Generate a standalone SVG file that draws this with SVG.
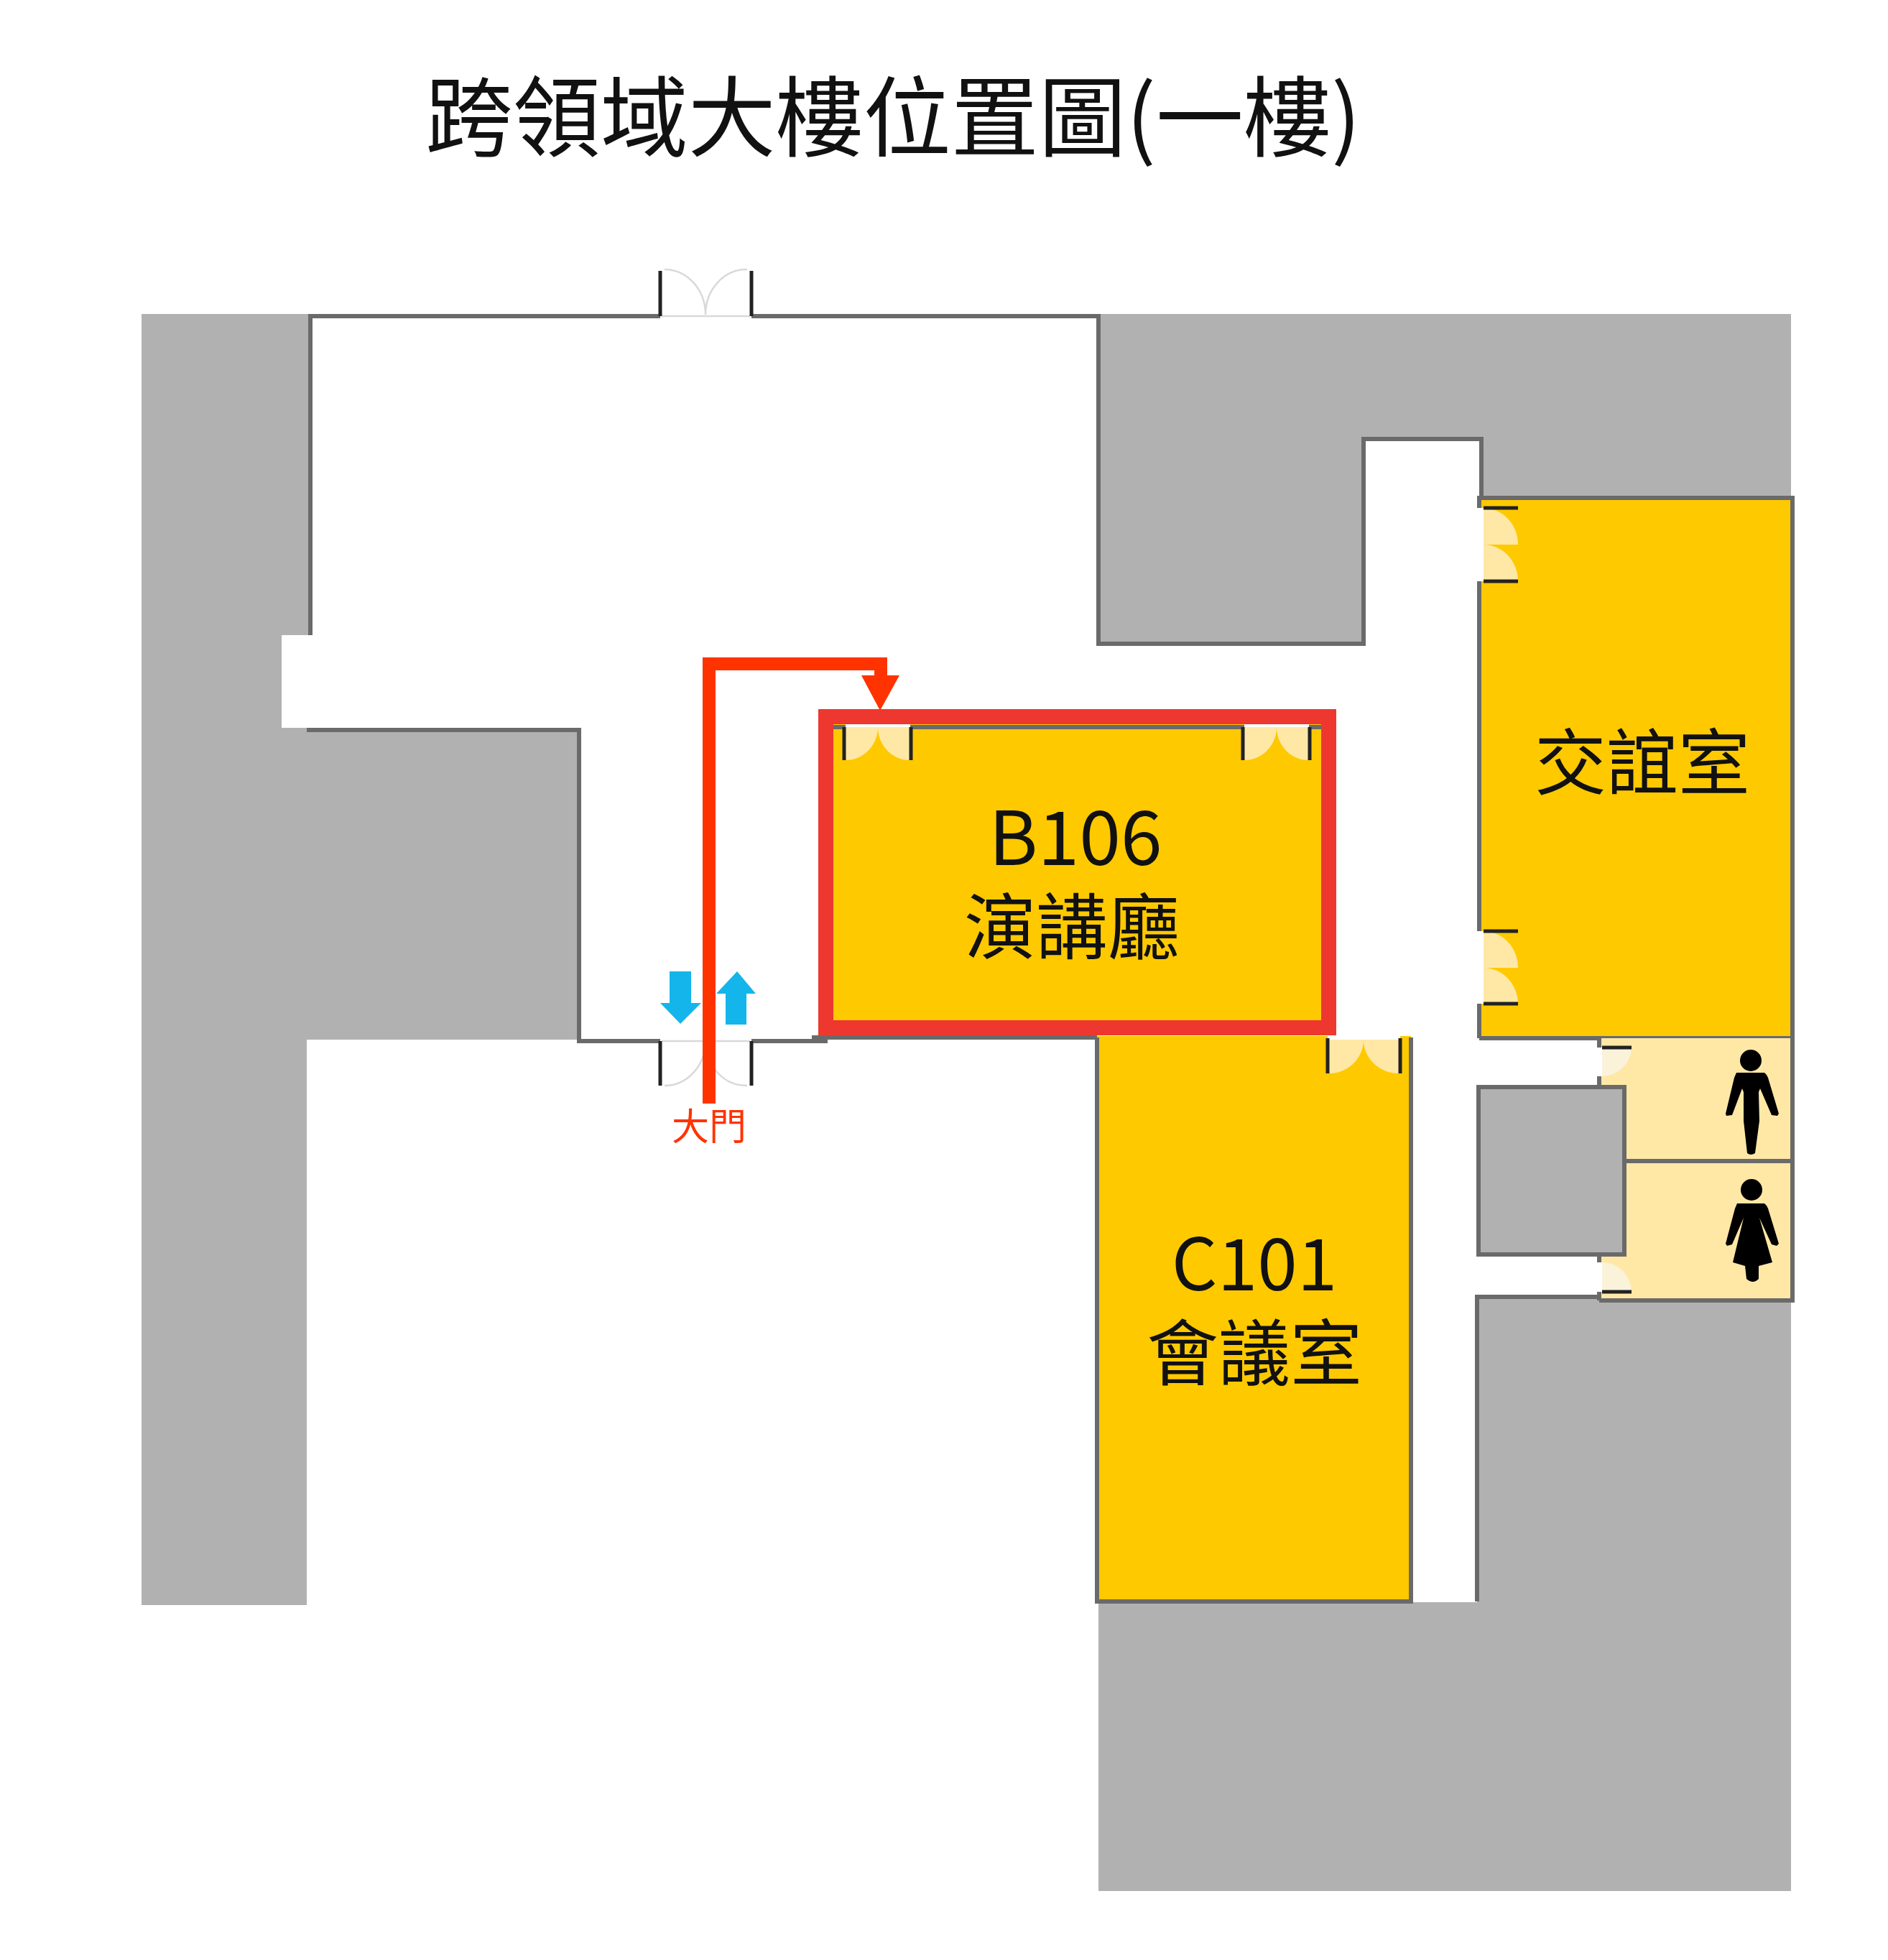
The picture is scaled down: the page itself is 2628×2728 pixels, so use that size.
<svg xmlns="http://www.w3.org/2000/svg" width="2628" height="2728" viewBox="0 0 2628 2728">
<style>
text{font-family:"Noto Sans CJK TC","Noto Sans",sans-serif;fill:#111;text-anchor:middle}
.g{fill:#b1b1b1}.y{fill:#ffc900}.ly{fill:#ffe8a6}
.w{fill:none;stroke:#6a6a6a;stroke-width:6;stroke-linejoin:miter}
.p{fill:none;stroke:#222;stroke-width:5}
.wh{fill:#fff}
.arc{fill:none;stroke:#d9d9d9;stroke-width:2.5}
.leaf{fill:#ffe8a6}
.leaf2{fill:#fbf2da}
.b{fill:#14b5ea}
.lab{font-size:100px}
</style>
<rect width="2628" height="2728" fill="#fff"/>
<g id="walls">
<path class="g" d="M197 437H432V884H392V1013H430V1015H806V1447H427V2234H197Z"/>
<path class="g" d="M1529 437H2493V693H2059V611H1898V896H1529Z"/>
<path class="g" d="M2056 1805H2493V2632H1529V2230H2056Z"/>
</g>
<g id="room-lounge">
<rect class="y" x="2059" y="693" width="436" height="752"/>
<path class="w" d="M2059 1445V693H2495V1445H2059"/>
<path class="wh" d="M2056 707H2065V809H2056ZM2056 1296H2065V1397H2056Z"/>
<path class="leaf" d="M2065 707A48 51 0 0 1 2113 758H2065ZM2065 758A48 51 0 0 1 2113 809H2065Z" transform="matrix(1 0 0 1 0 0)"/>
<path class="leaf" d="M2065 1296A48 51 0 0 1 2113 1347H2065ZM2065 1347A48 51 0 0 1 2113 1397H2065Z"/>
<path class="p" d="M2065 707H2113M2065 809H2113M2065 1296H2113M2065 1397H2113"/>
<text class="lab" x="2286" y="1098">交誼室</text>
</g>
<g id="room-c101">
<rect class="y" x="1527" y="1442" width="437" height="787"/>
<path class="w" d="M1527 1444V2229H1964V1444"/>
<path class="wh" d="M1848 1440H1949V1447H1848Z"/>
<path class="leaf" d="M1850 1447V1494A48 47 0 0 0 1898 1447ZM1947 1447V1494A49 47 0 0 1 1898 1447Z"/>
<path class="p" d="M1848 1445V1494M1949 1445V1494"/>
<text class="lab" x="1746" y="1796">C101</text>
<text class="lab" x="1746" y="1920">會議室</text>
</g>
<g id="room-b106">
<rect class="y" x="1150" y="1000" width="700" height="430"/>
<path class="w" d="M1150 1012H1850"/>
<rect class="wh" x="1177" y="1006" width="90" height="8"/>
<rect class="wh" x="1732" y="1006" width="90" height="8"/>
<path class="leaf" d="M1177 1012V1058A45 46 0 0 0 1222 1012ZM1266 1012V1058A44 46 0 0 1 1222 1012ZM1732 1012V1058A45 46 0 0 0 1777 1012ZM1821 1012V1058A44 46 0 0 1 1777 1012Z"/>
<path class="p" d="M1175 1012V1058M1268 1012V1058M1730 1012V1058M1823 1012V1058"/>
<text class="lab" x="1497" y="1204" font-size="104" style="font-size:104px">B106</text>
<text class="lab" x="1492" y="1327">演講廳</text>
</g>
<g id="restrooms">
<path class="ly" d="M2226 1445H2493V1810H2226V1746H2261V1513H2226Z"/>
<rect class="g" x="2058" y="1513" width="203" height="233"/>
<path class="w" d="M2058 1513H2261V1746H2058ZM2261 1616H2495M2495 1445V1810H2226M2056 2229V1805H2226M2226 1445V1458M2226 1498V1513M2226 1746V1757M2226 1798V1810"/>
<rect class="wh" x="2190" y="1458" width="40" height="40"/>
<rect class="wh" x="2190" y="1757" width="40" height="41"/>
<path class="leaf2" d="M2230 1458H2271A41 41 0 0 1 2230 1498ZM2230 1798H2271A41 41 0 0 0 2230 1757Z"/>
<path class="p" d="M2230 1458H2271M2230 1798H2271"/>
<circle cx="2437" cy="1476" r="15"/>
<path d="M2417 1493H2456Q2460 1496 2461 1500L2476 1550 2474 1553 2466 1552 2450 1515 2448 1520 2449 1560 2443 1605Q2437 1609 2432 1605L2427 1560 2427 1520 2425 1515 2411 1552 2403 1553 2402 1550 2414 1500Z"/>
<circle cx="2438" cy="1656" r="15"/>
<path d="M2418 1675H2456Q2460 1678 2461 1682L2476 1731 2473 1734 2466 1732 2449 1695 2467 1757 2448 1762 2448 1780Q2440 1788 2431 1780L2429 1762 2412 1757 2427 1695 2411 1732 2404 1734 2402 1731 2415 1682Z"/>
</g>
<g id="hall-walls">
<path class="w" d="M432 884V440H919M1046 440H1529V896H1898V611H2062V693"/>
<path class="w" d="M430 1013V1016H806V1449H919M1046 1449H1152M1130 1444H1527"/>
</g>
<g id="doors-main">
<path class="arc" d="M925 375A57 63 0 0 1 982 438A57 63 0 0 1 1040 375"/>
<path class="arc" d="M925 1511A57 62 0 0 0 982 1449A57 62 0 0 0 1040 1511"/>
<path class="arc" d="M921 1449H1044M921 440H1044"/>
<path class="p" stroke-width="5" d="M919 440V377M1046 440V377M919 1449V1511M1046 1449V1511"/>
</g>
<g id="stairs">
<path class="b" d="M932 1352H962V1396H976L947 1425 919 1396H932Z"/>
<path class="b" d="M1010 1426H1039V1383H1052L1026 1352 997 1383H1010Z"/>
</g>
<g id="highlight">
<rect x="1149.500" y="997.500" width="700" height="433" fill="none" stroke="#ee372f" stroke-width="21"/>
</g>
<g id="connectors">
<path d="M987 1536V924H1226V945" fill="none" stroke="#ff3300" stroke-width="18"/>
<path d="M1199 940H1252L1225 989Z" fill="#ff3300"/>
</g>
<g id="labels">
<text x="1243" y="208" style="font-size:122px">跨領域大樓位置圖(一樓)</text>
<text x="987" y="1587" style="font-size:52px;fill:#ff3300">大門</text>
</g>
</svg>
